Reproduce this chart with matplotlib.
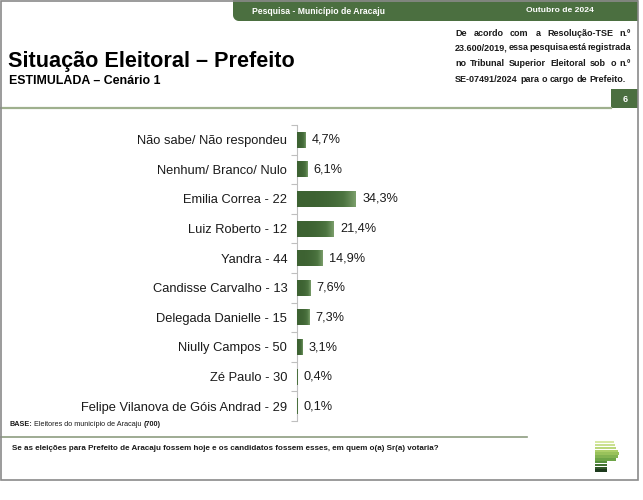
import matplotlib
matplotlib.use('Agg')
import matplotlib.pyplot as plt
import numpy as np
from matplotlib.patches import Rectangle, Polygon
from matplotlib.lines import Line2D
from matplotlib.colors import LinearSegmentedColormap

categories = ['Não sabe/ Não respondeu', 'Nenhum/ Branco/ Nulo', 'Emilia Correa - 22',
              'Luiz Roberto - 12', 'Yandra - 44', 'Candisse Carvalho - 13',
              'Delegada Danielle - 15', 'Niully Campos - 50', 'Zé Paulo - 30',
              'Felipe Vilanova de Góis Andrad - 29']
values = [4.7, 6.1, 34.3, 21.4, 14.9, 7.6, 7.3, 3.1, 0.4, 0.1]
value_labels = ['4,7%', '6,1%', '34,3%', '21,4%', '14,9%', '7,6%', '7,3%', '3,1%', '0,4%', '0,1%']

W, H = 643, 500
fig = plt.figure(figsize=(W / 100, H / 100), dpi=100)
fig.patch.set_facecolor('white')
renderer = fig.canvas.get_renderer()


def px(x):
    return x / W


def py(y):
    return 1 - y / H


FONT = 'Liberation Sans'
GREEN = '#4b6f40'
INK = '#1a1a1a'


def fit_text(x, y, s, width, ha='left', **kw):
    t = fig.text(px(x), py(y), s, fontsize=10, family=FONT, ha=ha, va='center', **kw)
    w = t.get_window_extent(renderer).width
    t.set_fontsize(10 * width / w)
    return t


def measure(s, size, **kw):
    t = fig.text(0, 0, s, fontsize=size, family=FONT, **kw)
    w = t.get_window_extent(renderer).width
    t.remove()
    return w


# header bar with rounded bottom-left corner
r = 6
ang = np.linspace(0, np.pi / 2, 12)
arc = [(239 - r * np.sin(a), 21 - r + r * np.cos(a)) for a in ang]
verts = [(233, -2), (638, -2), (638, 21)] + arc + [(233, 21 - r)]
fig.add_artist(Polygon([(px(a), py(b)) for a, b in verts], closed=True, transform=fig.transFigure,
                       facecolor=GREEN, edgecolor='none'))
fit_text(318, 11, 'Pesquisa - Município de Aracaju', 133, ha='center', color='white',
         fontweight='bold', zorder=3)
fit_text(560, 11, 'Outubro de 2024', 67, ha='center', color='white', fontweight='bold', zorder=3)

# frame
fig.add_artist(Rectangle((px(1), py(480)), px(638) - px(1), py(1) - py(480),
                         transform=fig.transFigure, fill=False, edgecolor='#8a8a8a', lw=1.2,
                         zorder=4))

# title
fit_text(8, 62, 'Situação Eleitoral – Prefeito', 285, fontweight='bold', color='black')
fit_text(9, 81, 'ESTIMULADA – Cenário 1', 150, fontweight='bold', color='black')

# justified note
note_lines = ['De acordo com a Resolução-TSE n.º',
              '23.600/2019, essa pesquisa está registrada',
              'no Tribunal Superior Eleitoral sob o n.º',
              'SE-07491/2024 para o cargo de Prefeito.']
note_y = [33, 48, 64, 80]
note_x0, note_x1 = 455, 631
note_size = 7.2
while note_size > 4:
    ok = True
    for ln in note_lines:
        words = ln.split()
        tot = sum(measure(wd, note_size, fontweight='bold') for wd in words) + 0.6 * (len(words) - 1)
        if tot > note_x1 - note_x0:
            ok = False
            break
    if ok:
        break
    note_size -= 0.1
space_w = 2.4
for i, (ln, yy) in enumerate(zip(note_lines, note_y)):
    words = ln.split()
    widths = [measure(wd, note_size, fontweight='bold') for wd in words]
    gap = (note_x1 - note_x0 - sum(widths)) / (len(words) - 1)
    if i == 3:
        gap = min(gap, space_w)
    x = note_x0
    for wd, w in zip(words, widths):
        fig.text(px(x), py(yy), wd, fontsize=note_size, family=FONT, fontweight='bold',
                 ha='left', va='center', color=INK)
        x += w + gap

# separator + page box
fig.add_artist(Line2D([px(1), px(611)], [py(108), py(108)], transform=fig.transFigure,
                      color='#9fb08e', lw=1.6))
fig.add_artist(Rectangle((px(611), py(108)), px(638) - px(611), py(89) - py(108),
                         transform=fig.transFigure, facecolor=GREEN, edgecolor='none'))
fig.text(px(625), py(99), '6', color='white', fontsize=6.5, fontweight='bold', family=FONT,
         ha='center', va='center')

# chart
ax = fig.add_axes([px(297), py(421), px(400) - px(297), py(125) - py(421)])
ypos = np.arange(len(categories))
bars = ax.barh(ypos, values, height=0.54, color='#4a6e3e', edgecolor='none', zorder=2)
cmap = LinearSegmentedColormap.from_list('g', ['#3d6232', '#4d7541', '#7da06d'])
grad = np.linspace(0, 1, 256).reshape(1, -1) ** 3
for b in bars:
    x0, y0 = b.get_x(), b.get_y()
    w, h = b.get_width(), b.get_height()
    if w <= 0:
        continue
    im = ax.imshow(grad, cmap=cmap, aspect='auto', extent=(x0, x0 + w, y0 + h, y0),
                   zorder=3, interpolation='bicubic')
    im.set_clip_path(b)
ax.set_xlim(0, 60)
ax.set_ylim(len(categories) - 0.5, -0.5)
ax.set_yticks(ypos)
ax.set_yticklabels(categories, fontsize=9.3, family=FONT, color=INK)
ax.set_yticks(np.arange(-0.5, len(categories), 1), minor=True)
ax.tick_params(axis='y', which='major', length=0, pad=7)
ax.tick_params(axis='y', which='minor', length=4, color='#bfbfbf', width=0.8)
ax.set_xticks([])
for s in ['top', 'right', 'bottom']:
    ax.spines[s].set_visible(False)
ax.spines['left'].set_color('#bfbfbf')
ax.spines['left'].set_linewidth(0.8)
ax.patch.set_alpha(0)
for v, lab, yy in zip(values, value_labels, ypos):
    ax.annotate(lab, (v, yy), xytext=(4.5, 0), textcoords='offset points', ha='left',
                va='center', fontsize=9.2, family=FONT, color=INK)

# base line text
base_size = 5.2
parts = [('BASE:', 'bold'), (' Eleitores do município de Aracaju ', 'normal'), ('(700)', 'bold')]
x = 9
for txt, wt in parts:
    fig.text(px(x), py(425), txt, fontweight=wt, fontsize=base_size, family=FONT,
             va='center', ha='left', color=INK)
    x += measure(txt, base_size, fontweight=wt)

fig.add_artist(Line2D([px(1), px(527)], [py(437), py(437)], transform=fig.transFigure,
                      color='#8d9d80', lw=1.2))
fit_text(12, 449, 'Se as eleições para Prefeito de Aracaju fossem hoje e os candidatos '
         'fossem esses, em quem o(a) Sr(a) votaria?', 426, fontweight='bold', color=INK)

# logo
logo_w = [19, 20, 21, 23, 24, 23, 21, 12, 12, 12, 12]
logo_c = LinearSegmentedColormap.from_list('l', ['#d8e9a4', '#a8cc62', '#5e9a40', '#1d3a1d'])
for i, lw_ in enumerate(logo_w):
    yt = 441 + i * 2.85
    fig.add_artist(Rectangle((px(595), py(yt + 2.4)), px(595 + lw_) - px(595),
                             py(yt) - py(yt + 2.4), transform=fig.transFigure,
                             facecolor=logo_c(i / (len(logo_w) - 1)), edgecolor='none'))

fig.savefig('out.png', dpi=100, facecolor='white')
